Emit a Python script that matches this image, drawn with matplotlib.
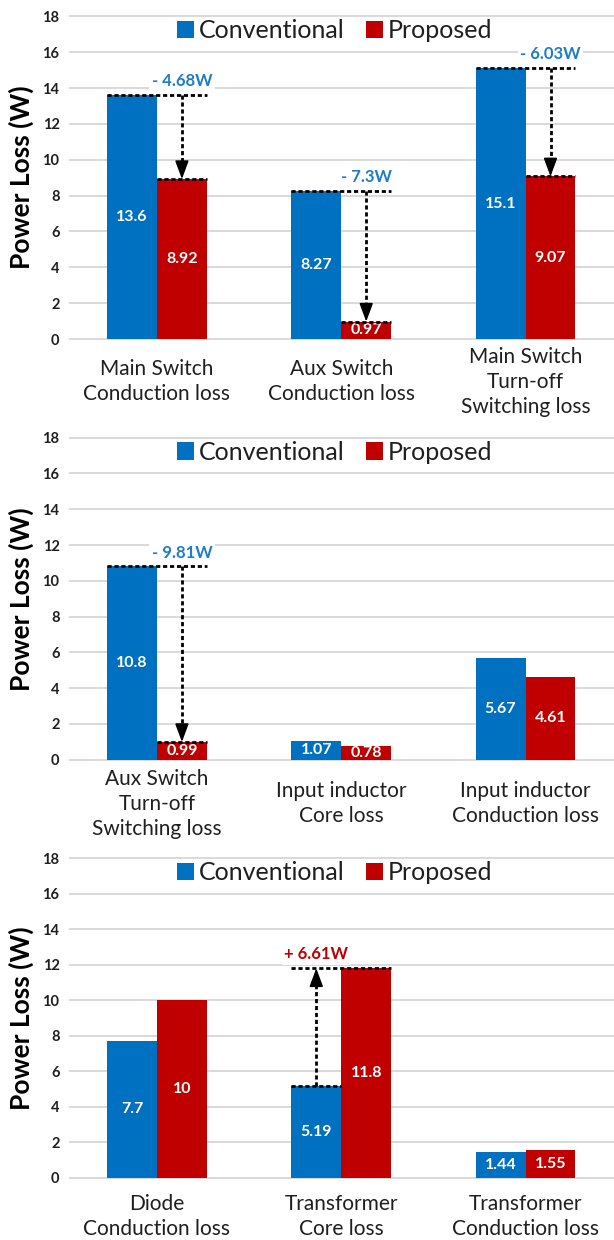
import matplotlib
matplotlib.use('Agg')
import matplotlib.pyplot as plt
import numpy as np

plt.rcParams['font.family'] = ['Lato', 'DejaVu Sans']

# ---------------- data ----------------
series_names = ["Conventional", "Proposed"]

panel1_categories = ["Main Switch\nConduction loss", "Aux Switch\nConduction loss",
                     "Main Switch\nTurn-off\nSwitching loss"]
panel1_conventional = [13.6, 8.27, 15.1]
panel1_proposed = [8.92, 0.97, 9.07]
panel1_changes = [(0, "- 4.68W"), (1, "- 7.3W"), (2, "- 6.03W")]

panel2_categories = ["Aux Switch\nTurn-off\nSwitching loss", "Input inductor\nCore loss",
                     "Input inductor\nConduction loss"]
panel2_conventional = [10.8, 1.07, 5.67]
panel2_proposed = [0.99, 0.78, 4.61]
panel2_changes = [(0, "- 9.81W")]

panel3_categories = ["Diode\nConduction loss", "Transformer\nCore loss",
                     "Transformer\nConduction loss"]
panel3_conventional = [7.7, 5.19, 1.44]
panel3_proposed = [10, 11.8, 1.55]
panel3_changes = [(1, "+ 6.61W")]

y_ticks = [0, 2, 4, 6, 8, 10, 12, 14, 16, 18]
y_label = "Power Loss (W)"

# ---------------- style ----------------
BLUE = '#0070C0'
RED = '#C00000'
BLUE_TXT = '#1F7CC9'
GRID = '#D9D9D9'
TXT = '#1F1F1F'

W, H = 614, 1240
fig = plt.figure(figsize=(W / 100, H / 100), dpi=100)

# axes geometry in pixels: (bottom, top)
panel_px = [(340.8, 14.5), (761.5, 435.9), (1179.5, 856.5)]
label_pads = [29.5, 30.5, 26.5]
left_px, right_px = 68.5, 614.0
bar_w = 0.271
ylim = (-0.1, 18.1)

panels = [
    (panel1_categories, panel1_conventional, panel1_proposed, panel1_changes),
    (panel2_categories, panel2_conventional, panel2_proposed, panel2_changes),
    (panel3_categories, panel3_conventional, panel3_proposed, panel3_changes),
]

dash = (0, (1.5, 1.0))
DLW = 2.0

for (cats, conv, prop, changes), (bpx, tpx), lpad in zip(panels, panel_px, label_pads):
    ax = fig.add_axes([left_px / W, 1 - bpx / H, (right_px - left_px) / W, (bpx - tpx) / H])
    x = np.arange(len(cats))
    ax.bar(x - bar_w / 2, conv, bar_w, color=BLUE, label=series_names[0], zorder=2)
    ax.bar(x + bar_w / 2, prop, bar_w, color=RED, label=series_names[1], zorder=2)

    for xi, v in zip(x - bar_w / 2, conv):
        ax.text(xi, v / 2, f"{v:g}", ha='center', va='center', color='white',
                fontsize=11.5, fontweight='bold', zorder=4)
    for xi, v in zip(x + bar_w / 2, prop):
        ax.text(xi, v / 2, f"{v:g}", ha='center', va='center', color='white',
                fontsize=11.5, fontweight='bold', zorder=4)

    ax.set_xlim(-0.48, 2.48)
    ax.set_ylim(*ylim)
    ax.set_yticks(y_ticks)
    ax.set_yticklabels([str(t) for t in y_ticks], fontsize=10.5, fontweight='bold', color=TXT)
    ax.set_xticks(x)
    ax.set_xticklabels(cats, fontsize=15, color=TXT, linespacing=1.3)
    for lab in ax.get_xticklabels():
        lab.set_verticalalignment('center')
    ax.tick_params(axis='x', length=0, pad=lpad)
    ax.tick_params(axis='y', length=0, pad=6.5)
    ax.yaxis.grid(True, color=GRID, linewidth=1.4, zorder=0)
    ax.set_axisbelow(True)
    for s in ax.spines.values():
        s.set_visible(False)

    # change annotations
    for idx, txt in changes:
        c, p = conv[idx], prop[idx]
        x_left = idx - bar_w
        x_right = idx + bar_w
        if p < c:
            ax_x = idx + bar_w / 2
            hi, lo = c, p
            low_span = (idx, idx + bar_w)
            color = BLUE_TXT
            start, end = hi, lo
        else:
            ax_x = idx - bar_w / 2
            hi, lo = p, c
            low_span = (idx - bar_w, idx)
            color = RED
            start, end = lo, hi
        ax.plot([x_left, x_right], [hi, hi], color='black', lw=DLW, ls=dash, zorder=5,
                dash_capstyle='butt')
        ax.plot(list(low_span), [lo, lo], color='black', lw=DLW, ls=dash, zorder=5,
                dash_capstyle='butt')
        head = 0.8 if end < start else -0.8
        ax.plot([ax_x, ax_x], [start, end + head], color='black', lw=DLW, ls=dash, zorder=5,
                dash_capstyle='butt')
        ax.annotate('', xy=(ax_x, end), xytext=(ax_x, end + head),
                    arrowprops=dict(arrowstyle='-|>,head_length=0.7,head_width=0.26',
                                    color='black', lw=1.2, mutation_scale=16,
                                    shrinkA=0, shrinkB=0),
                    zorder=6)
        ax.annotate(txt, xy=(ax_x, hi), xytext=(0, 10), textcoords='offset points',
                    ha='center', va='center', color=color, fontsize=12, fontweight='bold',
                    bbox=dict(boxstyle='square,pad=0.15', fc='white', ec='none'), zorder=7)

    leg = ax.legend(loc='center', bbox_to_anchor=(0.4876, 0.95), ncol=2, frameon=False,
                    fontsize=18, handlelength=0.68, handleheight=0.68,
                    handletextpad=0.2, columnspacing=0.85, borderaxespad=0)
    for t in leg.get_texts():
        t.set_color(TXT)

    fig.text(21.5 / W, 1 - (bpx + tpx) / 2 / H, y_label, rotation=90, ha='center', va='center',
             fontsize=19, fontweight='bold', color='black')

fig.savefig('out.png', dpi=100, facecolor='white')
